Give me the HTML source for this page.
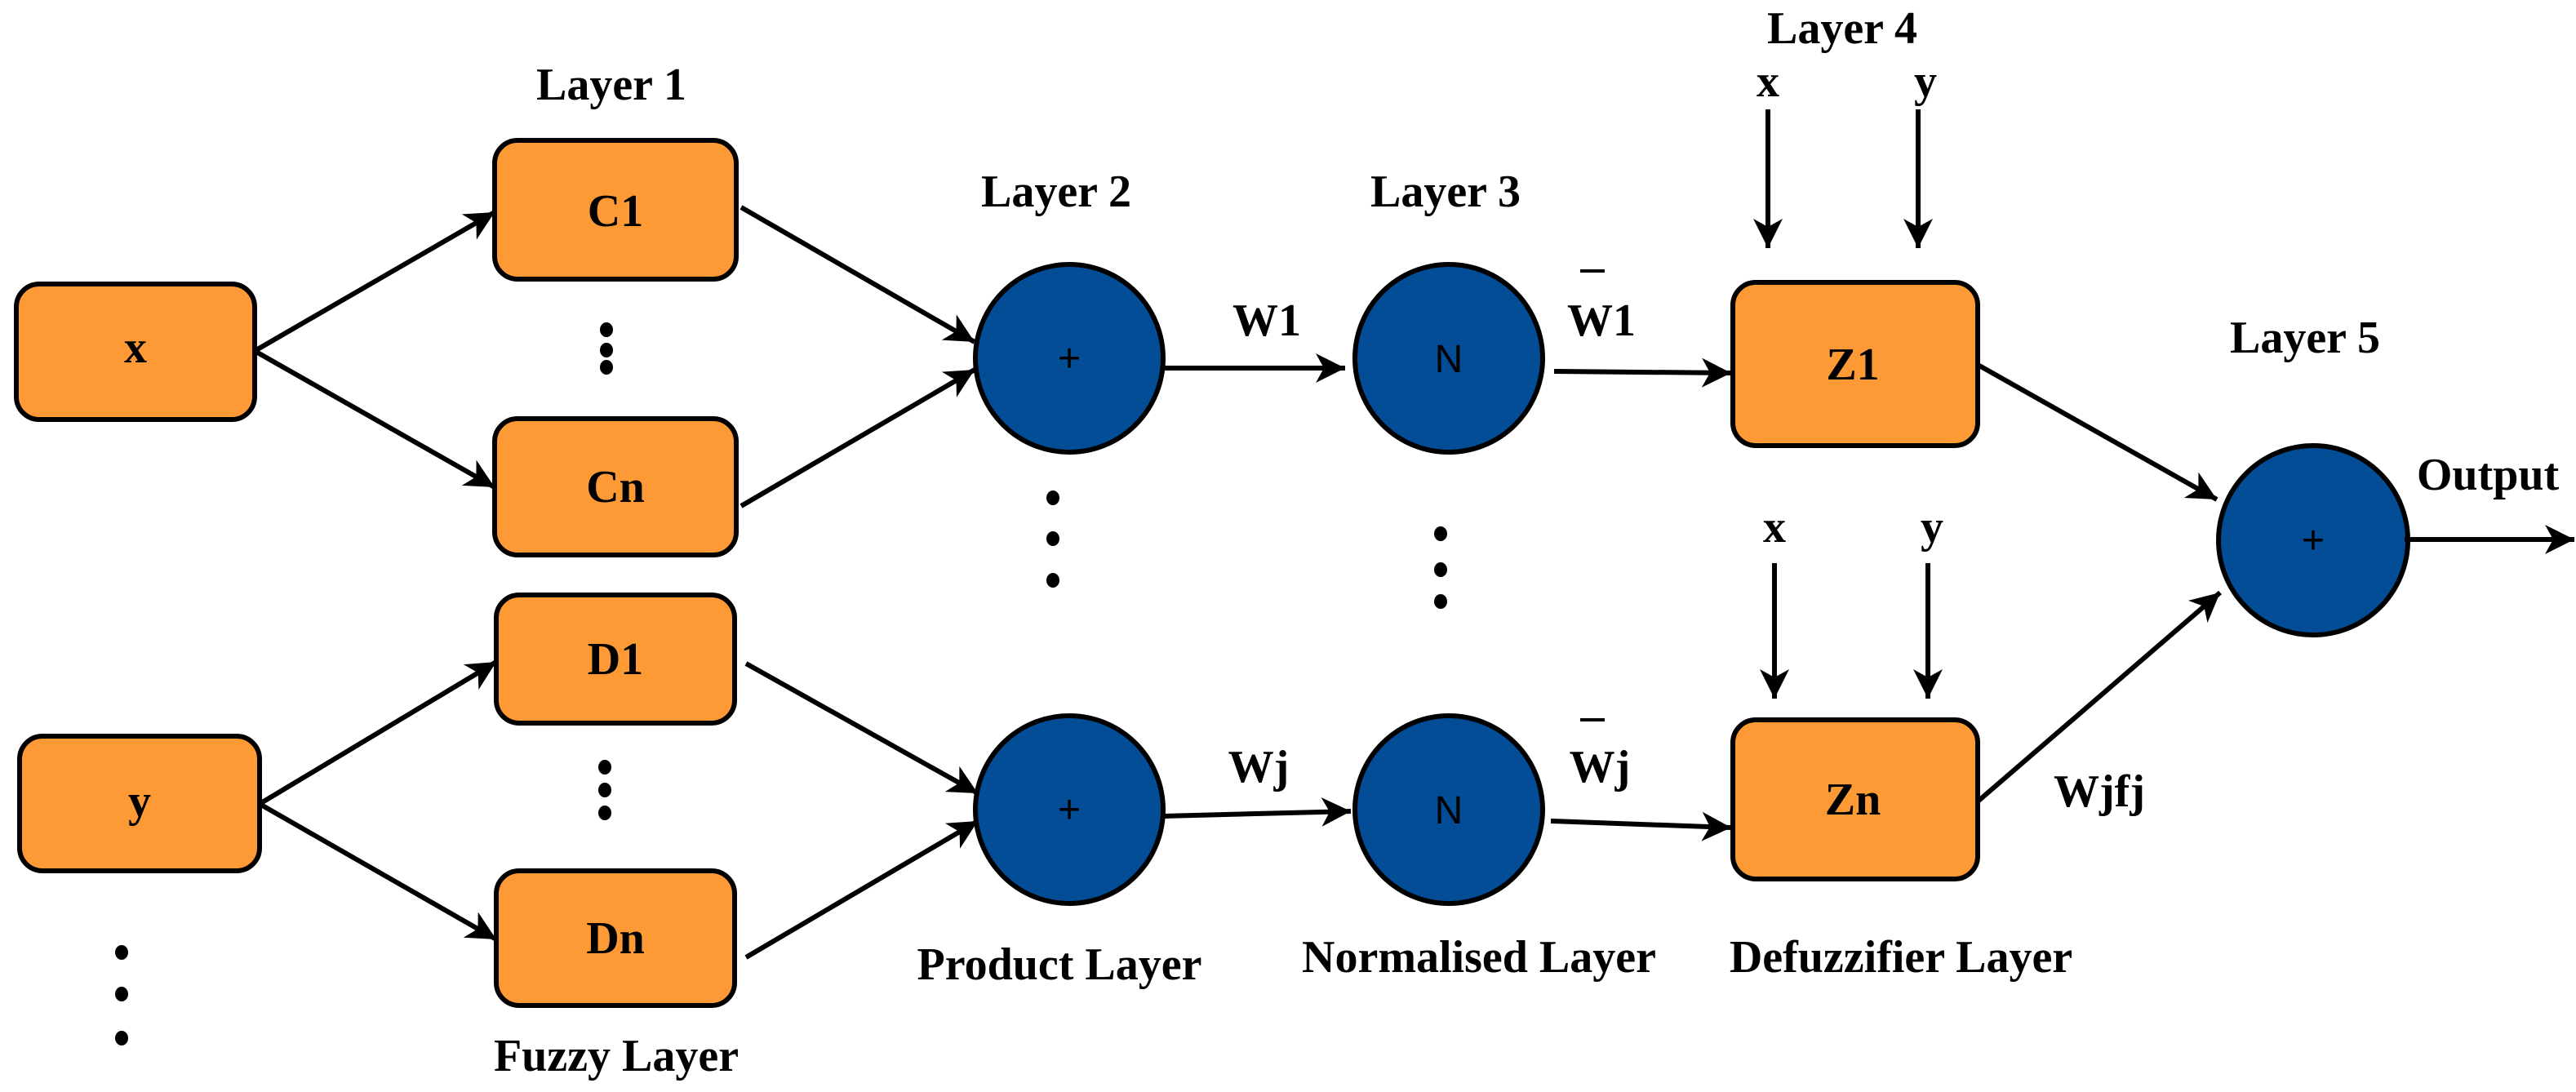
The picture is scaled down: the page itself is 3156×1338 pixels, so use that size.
<!DOCTYPE html>
<html><head><meta charset="utf-8"><style>
html,body{margin:0;padding:0;background:#fff}
svg{display:block}
text{font-family:"Liberation Serif",serif;font-weight:bold;font-size:56px;fill:#000;text-anchor:middle}
.s{font-family:"Liberation Sans",sans-serif;font-weight:normal;font-size:48px}
.b{fill:#FD9A35;stroke:#000;stroke-width:6}
.c{fill:#034C96;stroke:#000;stroke-width:6}
line{stroke:#000;stroke-width:6}
</style></head><body>
<svg width="3156" height="1338" viewBox="0 0 3156 1338" xmlns="http://www.w3.org/2000/svg">
<defs><marker id="a" markerUnits="userSpaceOnUse" markerWidth="40" markerHeight="40" refX="36" refY="20" orient="auto"><path d="M0,2 L36,20 L0,38 L10,20 Z" fill="#000"/></marker></defs>
<rect class="b" x="20" y="348" width="292" height="166" rx="28"/>
<rect class="b" x="24" y="902" width="294" height="165" rx="28"/>
<rect class="b" x="606" y="172" width="296" height="170" rx="28"/>
<rect class="b" x="606" y="513" width="296" height="167" rx="28"/>
<rect class="b" x="608" y="729" width="292" height="157" rx="28"/>
<rect class="b" x="608" y="1067" width="292" height="165" rx="28"/>
<rect class="b" x="2123" y="346" width="300" height="200" rx="28"/>
<rect class="b" x="2123" y="882" width="300" height="195" rx="28"/>
<circle class="c" cx="1310" cy="439" r="115"/>
<circle class="c" cx="1310" cy="992" r="115"/>
<circle class="c" cx="1775" cy="439" r="115"/>
<circle class="c" cx="1775" cy="992" r="115"/>
<circle class="c" cx="2834" cy="662" r="116"/>
<g marker-end="url(#a)">
<line x1="312" y1="430" x2="606" y2="260"/>
<line x1="312" y1="430" x2="606" y2="597"/>
<line x1="318" y1="985" x2="608" y2="811"/>
<line x1="318" y1="985" x2="608" y2="1151"/>
<line x1="908" y1="254" x2="1194" y2="419"/>
<line x1="908" y1="620" x2="1194" y2="453"/>
<line x1="914" y1="813" x2="1198" y2="972"/>
<line x1="914" y1="1173" x2="1198" y2="1006"/>
<line x1="1425" y1="451" x2="1648" y2="451"/>
<line x1="1425" y1="1000" x2="1655" y2="994"/>
<line x1="1904" y1="455" x2="2121" y2="457"/>
<line x1="1900" y1="1006" x2="2121" y2="1014"/>
<line x1="2425" y1="448" x2="2716" y2="612"/>
<line x1="2423" y1="982" x2="2720" y2="726"/>
<line x1="2946" y1="661" x2="3154" y2="661"/>
<line x1="2166" y1="134" x2="2166" y2="304"/>
<line x1="2350" y1="134" x2="2350" y2="304"/>
<line x1="2174" y1="690" x2="2174" y2="856"/>
<line x1="2362" y1="690" x2="2362" y2="856"/>
</g>
<g fill="#000">
<ellipse cx="743" cy="404" rx="8" ry="9"/><ellipse cx="743" cy="429" rx="8" ry="9"/><ellipse cx="743" cy="450" rx="8" ry="9"/>
<ellipse cx="741" cy="940" rx="8" ry="9"/><ellipse cx="741" cy="968" rx="8" ry="9"/><ellipse cx="741" cy="996" rx="8" ry="9"/>
<ellipse cx="149" cy="1167" rx="8" ry="9"/><ellipse cx="149" cy="1218" rx="8" ry="9"/><ellipse cx="149" cy="1272" rx="8" ry="9"/>
<ellipse cx="1290" cy="610" rx="8" ry="9"/><ellipse cx="1290" cy="660" rx="8" ry="9"/><ellipse cx="1290" cy="711" rx="8" ry="9"/>
<ellipse cx="1765" cy="654" rx="8" ry="9"/><ellipse cx="1765" cy="698" rx="8" ry="9"/><ellipse cx="1765" cy="737" rx="8" ry="9"/>
<rect x="1936" y="330" width="30" height="4"/><rect x="1936" y="880" width="30" height="4"/>
</g>
<text x="166" y="444">x</text>
<text x="171" y="1000">y</text>
<text x="754" y="277">C1</text>
<text x="754" y="615">Cn</text>
<text x="754" y="826">D1</text>
<text x="754" y="1168">Dn</text>
<text x="2270" y="465">Z1</text>
<text x="2270" y="998">Zn</text>
<text class="s" x="1310" y="455">+</text>
<text class="s" x="1310" y="1008">+</text>
<text class="s" x="1775" y="456">N</text>
<text class="s" x="1775" y="1009">N</text>
<text class="s" x="2834" y="678">+</text>
<text x="749" y="122">Layer 1</text>
<text x="1294" y="253">Layer 2</text>
<text x="1771" y="253">Layer 3</text>
<text x="2257" y="53">Layer 4</text>
<text x="2824" y="432">Layer 5</text>
<text x="755" y="1312">Fuzzy Layer</text>
<text x="1298" y="1200">Product Layer</text>
<text x="1812" y="1191">Normalised Layer</text>
<text x="2329" y="1191">Defuzzifier Layer</text>
<text x="1552" y="411">W1</text>
<text x="1542" y="958">Wj</text>
<text x="1962" y="411">W1</text>
<text x="1960" y="958">Wj</text>
<text x="2166" y="118">x</text>
<text x="2359" y="118">y</text>
<text x="2174" y="664">x</text>
<text x="2367" y="664">y</text>
<text x="3048" y="600">Output</text>
<text x="2572" y="988">Wjfj</text>
</svg>
</body></html>
